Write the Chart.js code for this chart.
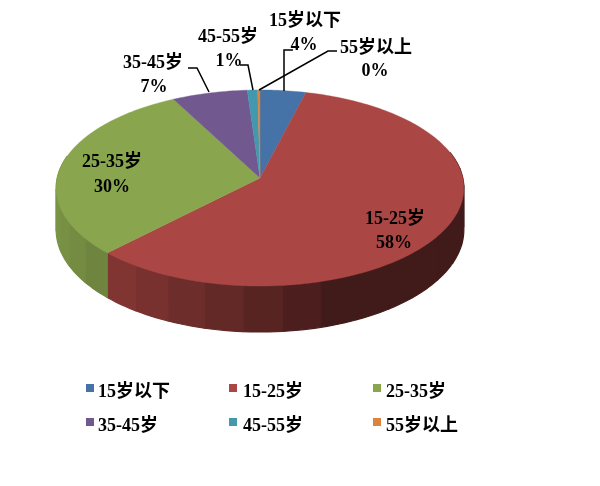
<!DOCTYPE html>
<html>
<head>
<meta charset="utf-8">
<style>html,body{margin:0;padding:0;background:#fff}canvas{display:block}</style>
<script src="https://cdn.jsdelivr.net/npm/chart.js@4/dist/chart.umd.min.js"></script>
</head>
<body>
<canvas id="c" width="600" height="486"></canvas>
<script>
const categories = ['15岁以下', '15-25岁', '25-35岁', '35-45岁', '45-55岁', '55岁以上'];
const values = [4.0, 58.3, 30.0, 6.6, 0.9, 0.2];
const percentLabels = ['4%', '58%', '30%', '7%', '1%', '0%'];
const colors = ['#4572a7', '#aa4643', '#89a54e', '#71588f', '#4198af', '#db843d'];

const FONT = 'bold 18px "Liberation Serif","Noto Sans CJK SC",serif';
const view = { x0: 260, y0: 178, c: 202.8, a: 97, p: 0.102, depth: 41.3 };
const labelPlaces = [
  { name: [305, 21], pct: [304, 45], line: [[293, 50], [284, 50], [284, 91]] },
  { name: [395, 219], pct: [394, 243] },
  { name: [112, 162], pct: [112, 187] },
  { name: [153, 63], pct: [154, 87], line: [[188, 68], [197, 68], [209, 92]] },
  { name: [228, 37], pct: [229, 61], line: [[240, 65], [248, 65], [253, 90]] },
  { name: [376, 48], pct: [375, 71], line: [[337, 51], [328, 51], [259, 90]] }
];
const legendCols = [86, 229, 373];
const legendTextCols = [98, 243, 386];
const legendRows = [388, 422];

function project(a, r, drop) {
  const u = Math.cos(a) * r, v = Math.sin(a) * r, w = 1 - view.p * v;
  return [view.x0 + view.c * u / w, view.y0 + view.a * v / w + (drop ? view.depth / w : 0)];
}
function shade(hex, f) {
  const n = parseInt(hex.slice(1), 16);
  return 'rgb(' + [n >> 16, (n >> 8) & 255, n & 255].map(c => Math.round(c * f)).join(',') + ')';
}
// side shading: lighter toward the left of the front rim, darkest toward the right
function sideFactor(a) {
  const t = Math.min(1, Math.max(0, (Math.cos(a) + 1) / 2));
  return 0.9 - 0.52 * Math.min(1, t / 0.68);
}

const pie3d = {
  id: 'pie3d',
  beforeDatasetsDraw(chart) {
    const ctx = chart.ctx, arcs = chart.getDatasetMeta(0).data;
    const facet = Math.PI / 18;
    ctx.save();
    // side wall
    arcs.forEach((arc, i) => {
      const s = arc.startAngle, e = arc.endAngle;
      const n = Math.max(1, Math.ceil((e - s) / facet));
      for (let k = 0; k < n; k++) {
        const a0 = s + (e - s) * k / n, a1 = s + (e - s) * (k + 1) / n;
        if (Math.sin((a0 + a1) / 2) < -0.3) continue;
        const col = shade(colors[i], sideFactor((a0 + a1) / 2));
        ctx.beginPath();
        for (let j = 0; j <= 6; j++) {
          const p = project(a0 + (a1 - a0) * j / 6, 1, false);
          j ? ctx.lineTo(p[0], p[1]) : ctx.moveTo(p[0], p[1]);
        }
        for (let j = 6; j >= 0; j--) {
          const p = project(a0 + (a1 - a0) * j / 6, 1, true);
          ctx.lineTo(p[0], p[1]);
        }
        ctx.closePath();
        ctx.fillStyle = col; ctx.strokeStyle = col; ctx.lineWidth = 1.2;
        ctx.lineJoin = 'round';
        ctx.fill(); ctx.stroke();
      }
    });
    // top face
    arcs.forEach((arc, i) => {
      const s = arc.startAngle, e = arc.endAngle;
      const n = Math.max(2, Math.ceil((e - s) / 0.02));
      ctx.beginPath();
      const c = project(0, 0, false);
      ctx.moveTo(c[0], c[1]);
      for (let j = 0; j <= n; j++) {
        const p = project(s + (e - s) * j / n, 1, false);
        ctx.lineTo(p[0], p[1]);
      }
      ctx.closePath();
      ctx.fillStyle = colors[i]; ctx.strokeStyle = colors[i]; ctx.lineWidth = 0.4;
      ctx.fill(); ctx.stroke();
    });
    ctx.restore();
    return false;
  },
  afterDraw(chart) {
    const ctx = chart.ctx;
    ctx.save();
    ctx.font = FONT;
    ctx.fillStyle = '#000';
    ctx.textAlign = 'center';
    ctx.textBaseline = 'middle';
    categories.forEach((name, i) => {
      const pl = labelPlaces[i];
      ctx.fillText(name, pl.name[0], pl.name[1]);
      ctx.fillText(percentLabels[i], pl.pct[0], pl.pct[1]);
      if (pl.line) {
        ctx.beginPath();
        pl.line.forEach((p, k) => k ? ctx.lineTo(p[0], p[1]) : ctx.moveTo(p[0], p[1]));
        ctx.strokeStyle = '#000';
        ctx.lineWidth = 1.5;
        ctx.stroke();
      }
    });
    // legend
    ctx.textAlign = 'left';
    categories.forEach((name, i) => {
      const x = legendCols[i % 3], y = legendRows[Math.floor(i / 3)];
      ctx.fillStyle = colors[i];
      ctx.fillRect(x, y - 4, 8, 8);
      ctx.fillStyle = '#000';
      ctx.fillText(name, legendTextCols[i % 3], y + 4);
    });
    ctx.restore();
  }
};

new Chart(document.getElementById('c'), {
  type: 'pie',
  data: { labels: categories, datasets: [{ data: values, backgroundColor: colors, borderWidth: 0 }] },
  options: {
    responsive: false,
    animation: false,
    plugins: { legend: { display: false }, tooltip: { enabled: false } }
  },
  plugins: [pie3d]
});
</script>
</body>
</html>
